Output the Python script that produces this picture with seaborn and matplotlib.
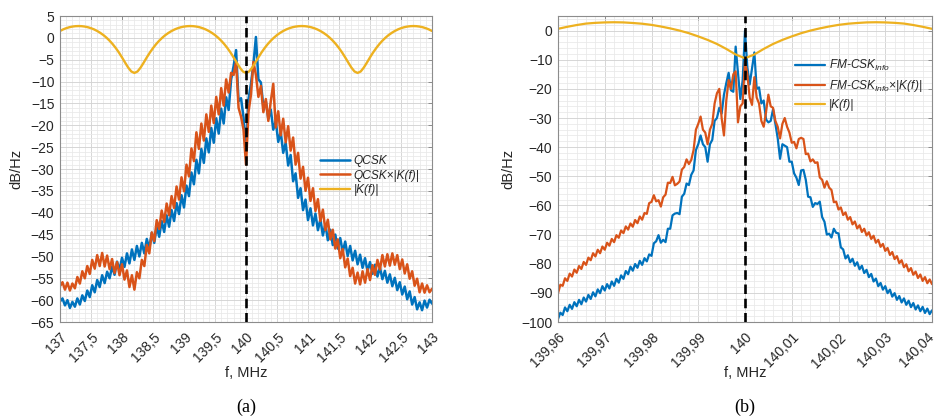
import numpy as np
import pandas as pd
import matplotlib
matplotlib.use("Agg")
import matplotlib.pyplot as plt
import seaborn as sns
from matplotlib.ticker import MultipleLocator, FuncFormatter

# ---------------- data ----------------
# panel (a): 137..143 MHz, spectra sampled every 0.04 MHz, |K(f)| every 0.05 MHz
a_f_start, a_f_step = 137.0, 0.04
a_k_start, a_k_step = 137.0, 0.05

qcsk_db = [
    -60.3, -59.6, -61.2, -60.0, -61.8, -60.4, -61.5, -59.6, -61.0, -58.9,
    -60.2, -57.8, -59.3, -56.6, -58.2, -55.4, -57.0, -54.3, -56.1, -53.5,
    -55.0, -52.3, -54.2, -51.2, -53.1, -50.3, -52.4, -49.3, -51.6, -48.4,
    -50.8, -47.6, -50.0, -46.9, -49.3, -46.0, -48.2, -44.6, -46.9, -43.2,
    -45.5, -41.9, -44.4, -40.6, -43.2, -39.4, -41.9, -37.8, -40.3, -36.0,
    -38.8, -33.8, -36.2, -30.8, -33.5, -27.9, -31.0, -25.4, -28.6, -23.0,
    -26.2, -20.6, -24.0, -18.4, -21.9, -16.2, -19.6, -13.6, -16.5, -9.5,
    -6.5, -2.8, -14.5, -13.8, -18.2, -25.5, -14.0, -10.5, -6.0, 0.2,
    -9.5, -10.2, -15.8, -14.5, -18.5, -16.4, -21.0, -19.0, -23.8, -21.5,
    -26.3, -24.0, -29.2, -26.8, -32.8, -31.0, -36.6, -34.4, -39.4, -37.0,
    -41.7, -39.0, -42.9, -40.2, -44.0, -41.5, -45.2, -42.6, -46.3, -43.9,
    -47.4, -45.0, -48.2, -45.8, -49.0, -46.6, -49.9, -47.6, -50.9, -48.7,
    -51.8, -49.6, -52.6, -50.4, -53.4, -51.3, -54.0, -51.9, -54.6, -52.5,
    -55.2, -53.3, -56.0, -54.1, -56.8, -54.9, -57.7, -55.9, -58.7, -56.9,
    -59.8, -58.0, -61.0, -59.3, -62.1, -60.5, -62.3, -60.1, -61.7, -59.9,
    -60.8]

qcsk_k_db = [
    -56.8, -55.9, -57.6, -56.0, -57.8, -56.2, -57.3, -54.7, -56.2, -53.4,
    -55.0, -52.2, -54.0, -50.8, -52.8, -49.7, -52.2, -49.2, -52.3, -49.8,
    -52.9, -50.6, -53.8, -51.3, -54.3, -51.8, -55.3, -53.2, -57.0, -54.3,
    -57.6, -53.6, -55.0, -50.8, -52.2, -47.4, -49.3, -44.5, -46.5, -41.7,
    -43.7, -39.5, -42.1, -37.9, -40.6, -36.2, -38.9, -34.0, -37.0, -31.9,
    -35.1, -29.0, -31.7, -25.3, -28.2, -21.6, -25.4, -19.6, -23.5, -17.5,
    -21.5, -15.5, -19.5, -13.5, -17.5, -11.5, -15.5, -9.5, -12.5, -8.0,
    -8.5, -5.5, -16.0, -18.0, -21.0, -29.0, -17.0, -13.0, -5.5, -8.5,
    -13.5, -11.0, -17.0, -14.0, -19.0, -14.5, -10.5, -20.5, -16.8, -22.3,
    -18.5, -23.9, -20.2, -25.8, -22.8, -29.0, -26.3, -32.2, -29.5, -35.0,
    -32.0, -37.3, -34.4, -39.6, -36.9, -41.9, -39.3, -44.0, -41.6, -46.1,
    -43.9, -48.2, -46.1, -50.4, -48.3, -52.5, -50.5, -54.5, -52.6, -56.2,
    -53.7, -56.4, -53.4, -56.0, -52.9, -55.4, -52.0, -54.2, -50.8, -53.0,
    -49.7, -52.3, -49.5, -52.1, -49.3, -51.9, -49.7, -52.9, -50.7, -53.9,
    -51.8, -55.1, -53.4, -56.7, -55.1, -58.2, -56.2, -58.3, -56.6, -58.2,
    -57.4]

k_a_db = [
    1.57, 1.93, 2.21, 2.43, 2.58, 2.67, 2.70, 2.67, 2.58, 2.43, 2.21, 1.93, 1.57,
    1.14, 0.64, 0.04, -0.65, -1.44, -2.34, -3.35, -4.47, -5.66, -6.80, -7.69, -8.03,
    -7.69, -6.80, -5.66, -4.47, -3.35, -2.34, -1.44, -0.65, 0.04, 0.64, 1.14, 1.57,
    1.93, 2.21, 2.43, 2.58, 2.67, 2.70,
    2.67, 2.58, 2.43, 2.21, 1.93, 1.57, 1.14, 0.64, 0.04, -0.65, -1.44, -2.34,
    -3.35, -4.47, -5.66, -6.80, -7.69, -8.03,
    -7.69, -6.80, -5.66, -4.47, -3.35, -2.34, -1.44, -0.65, 0.04, 0.64, 1.14, 1.57,
    1.93, 2.21, 2.43, 2.58, 2.67, 2.70,
    2.67, 2.58, 2.43, 2.21, 1.93, 1.57, 1.14, 0.64, 0.04, -0.65, -1.44, -2.34,
    -3.35, -4.47, -5.66, -6.80, -7.69, -8.03,
    -7.69, -6.80, -5.66, -4.47, -3.35, -2.34, -1.44, -0.65, 0.04, 0.64, 1.14, 1.57,
    1.93, 2.21, 2.43, 2.58, 2.67, 2.70, 2.67, 2.58, 2.43, 2.21, 1.93, 1.57]

# panel (b): 139.96..140.04 MHz, spectra every 0.0005 MHz, |K(f)| every 0.002 MHz
b_f_start, b_f_step = 139.96, 0.0005
b_k_start, b_k_step = 139.96, 0.002

fmcsk_db = [
    -99.0, -96.8, -97.6, -95.0, -96.3, -94.1, -95.5, -93.2, -94.6, -92.4,
    -93.9, -91.6, -93.0, -90.7, -92.1, -89.8, -91.2, -88.8, -90.1, -87.7,
    -89.2, -87.0, -88.5, -86.1, -87.6, -85.2, -86.5, -84.0, -85.2, -82.5,
    -83.6, -81.0, -82.4, -80.1, -81.4, -79.0, -80.4, -78.1, -79.2, -76.8,
    -77.3, -73.0, -72.3, -70.2, -72.8, -71.8, -72.6, -68.0, -68.0, -63.4,
    -62.8, -62.6, -63.0, -57.0, -56.0, -52.5, -53.0, -49.5, -48.0, -41.0,
    -39.0, -36.0, -39.0, -40.0, -45.0, -39.0, -37.5, -31.0, -30.0, -26.5,
    -28.5, -22.0, -18.0, -14.5, -20.5, -21.0, -5.5, -14.5, -23.5, -17.0,
    0.0,
    -12.5, -18.5, -13.0, -7.5, -20.0, -19.5, -25.0, -24.0, -30.5, -31.5,
    -31.0, -27.0, -32.0, -37.0, -44.0, -39.0, -39.5, -40.0, -45.0, -45.0,
    -49.0, -50.5, -53.0, -48.0, -47.8, -51.2, -57.0, -57.2, -60.5, -59.2,
    -59.5, -58.7, -64.0, -65.6, -70.0, -69.7, -71.0, -68.0, -69.4, -69.6,
    -74.4, -75.1, -78.2, -77.1, -79.5, -78.3, -80.7, -79.5, -81.9, -80.7,
    -83.2, -82.1, -84.6, -83.5, -86.1, -85.1, -87.7, -86.6, -88.9, -87.7,
    -90.1, -88.9, -91.3, -90.1, -92.4, -91.1, -93.3, -91.9, -94.1, -92.7,
    -94.9, -93.5, -95.7, -94.3, -96.3, -94.8, -96.9, -95.4, -97.3, -96.0]

fmcsk_k_db = [
    -90.2, -87.2, -87.6, -85.0, -85.9, -83.4, -84.4, -82.0, -83.1, -80.8,
    -81.8, -79.4, -80.4, -77.9, -78.8, -76.4, -77.5, -75.2, -76.4, -74.1,
    -75.2, -72.8, -73.8, -71.5, -72.6, -70.2, -71.1, -68.6, -69.5, -67.2,
    -68.3, -66.2, -67.3, -65.0, -66.1, -63.8, -64.9, -62.6, -62.9, -59.2,
    -58.8, -56.5, -58.6, -58.2, -60.4, -57.2, -56.3, -52.2, -52.3, -50.2,
    -53.1, -52.6, -51.8, -47.7, -46.8, -44.2, -45.8, -44.4, -41.0, -34.0,
    -32.0, -29.5, -34.0, -35.0, -39.0, -34.0, -32.0, -25.0, -21.5, -20.0,
    -30.0, -36.0, -24.0, -17.0, -20.0, -15.0, -14.0, -31.5, -26.0, -25.0,
    -10.5,
    -15.0, -23.0, -25.5, -16.0, -23.0, -25.0, -31.0, -33.0, -28.0, -22.0,
    -26.0, -26.5, -31.0, -33.0, -37.0, -32.0, -30.0, -33.0, -35.0, -38.5,
    -38.2, -40.4, -37.2, -36.8, -37.2, -42.4, -42.2, -44.9, -44.2, -45.4,
    -45.2, -50.4, -51.2, -53.9, -51.7, -53.9, -54.7, -58.9, -58.7, -61.4,
    -60.7, -63.3, -62.4, -64.9, -64.0, -66.5, -65.5, -67.9, -66.8, -69.1,
    -68.0, -70.3, -69.2, -71.5, -70.4, -72.8, -71.8, -74.2, -73.2, -75.6,
    -74.6, -77.0, -76.0, -78.4, -77.4, -79.8, -78.8, -81.2, -80.2, -82.6,
    -81.5, -83.8, -82.7, -84.9, -83.7, -85.9, -84.6, -86.7, -85.4, -87.0]

k_b_db = [
    0.6, 1.3, 1.9, 2.4, 2.65, 2.8, 2.86, 2.8, 2.6, 2.35, 1.95, 1.4, 0.75, 0.0,
    -0.9, -2.0, -3.2, -4.6, -6.3, -8.2, -9.5, -8.2, -6.3, -4.6, -3.2, -2.0, -0.9,
    0.0, 0.75, 1.4, 1.95, 2.35, 2.6, 2.8, 2.86, 2.8, 2.65, 2.4, 1.9, 1.3, 0.6]

labels_a = ["QCSK", "QCSK×|K(f)|", "|K(f)|"]
labels_b = ["FM-CSK$_{Info}$", "FM-CSK$_{Info}$×|K(f)|", "|K(f)|"]
xt_a = [137, 137.5, 138, 138.5, 139, 139.5, 140, 140.5, 141, 141.5, 142, 142.5, 143]
xt_b = [139.96, 139.97, 139.98, 139.99, 140.0, 140.01, 140.02, 140.03, 140.04]
f_center = 140.0

# ---------------- style ----------------
sns.set_theme(style="white")
plt.rcParams["font.family"] = ["Liberation Sans", "DejaVu Sans"]
plt.rcParams["mathtext.fontset"] = "custom"
plt.rcParams["mathtext.it"] = "Liberation Sans:italic"
plt.rcParams["mathtext.rm"] = "Liberation Sans"
plt.rcParams["axes.unicode_minus"] = True

C_BLUE, C_ORANGE, C_YELLOW = "#0072BD", "#D95319", "#EDB120"
TXT = "#262626"


def grid_f(start, step, n):
    return np.round(start + step * np.arange(n), 6)


def fmt_comma(v):
    return ("%g" % round(v, 4)).replace(".", ",")


fig = plt.figure(figsize=(9.37, 4.2), dpi=100)
W, H = 937.0, 420.0
ax_a = fig.add_axes([60 / W, (H - 322) / H, 372 / W, 306 / H])
ax_b = fig.add_axes([558 / W, (H - 322) / H, 374 / W, 306 / H])


def style_axes(ax, xlim, ylim, xmin, ymaj, ymin, xt, skip_last=False):
    ax.set_xlim(*xlim)
    ax.set_ylim(*ylim)
    ax.xaxis.set_major_locator(plt.FixedLocator(xt))
    ax.xaxis.set_minor_locator(MultipleLocator(xmin))
    ax.yaxis.set_major_locator(MultipleLocator(ymaj))
    ax.yaxis.set_minor_locator(MultipleLocator(ymin))
    last = xt[-1]
    ax.xaxis.set_major_formatter(FuncFormatter(
        lambda v, p: "" if (skip_last and abs(v - last) < 1e-9) else fmt_comma(v)))
    ax.set_axisbelow(True)
    ax.grid(which="minor", color="#e8e8e8", lw=0.55)
    ax.grid(which="major", color="#d3d3d3", lw=0.65)
    for s in ax.spines.values():
        s.set_color("#8c8c8c")
        s.set_linewidth(0.8)
    ax.tick_params(which="major", direction="in", top=True, right=True,
                   length=3, width=0.7, color="#8c8c8c", labelcolor=TXT,
                   labelsize=10, pad=4)
    ax.tick_params(which="minor", length=0)
    ax.tick_params(axis="x", pad=6)
    for lab in ax.get_xticklabels():
        lab.set_rotation(45)
        lab.set_ha("right")
        lab.set_va("top")
        lab.set_rotation_mode("anchor")
    if skip_last:
        # last label sits at the figure edge: keep its end on the tick
        ax.annotate(fmt_comma(last), xy=(last, 0), xycoords=("data", "axes fraction"),
                    xytext=(0, -9.5), textcoords="offset points", rotation=45,
                    ha="right", va="center", rotation_mode="anchor",
                    fontsize=10, color=TXT, annotation_clip=False)
    ax.set_xlabel("f, MHz", fontsize=10.5, color=TXT)
    ax.set_ylabel("dB/Hz", fontsize=10.5, color=TXT)


# ---------- panel (a) ----------
fa = grid_f(a_f_start, a_f_step, len(qcsk_db))
fka = grid_f(a_k_start, a_k_step, len(k_a_db))
sns.lineplot(x=fa, y=qcsk_db, ax=ax_a, color=C_BLUE, lw=1.8, label=labels_a[0])
sns.lineplot(x=fa, y=qcsk_k_db, ax=ax_a, color=C_ORANGE, lw=1.8, label=labels_a[1])
sns.lineplot(x=fka, y=k_a_db, ax=ax_a, color=C_YELLOW, lw=1.7, label=labels_a[2])
ax_a.axvline(f_center, color="black", lw=1.9, ls=(0, (3.6, 1.8)), zorder=5)
style_axes(ax_a, (137, 143), (-65, 5), 0.1, 5, 1, xt_a)
ax_a.xaxis.set_label_coords(0.5, -0.145)
ax_a.yaxis.set_label_coords(-0.098, 0.5)
ax_a.legend(loc="upper left", bbox_to_anchor=(0.70, 0.545), frameon=False,
            prop={"style": "italic", "size": 8.6}, handlelength=2.5,
            handletextpad=0.3, labelspacing=0.2, borderpad=0, borderaxespad=0,
            labelcolor=TXT)

# ---------- panel (b) ----------
fb = grid_f(b_f_start, b_f_step, len(fmcsk_db))
fkb = grid_f(b_k_start, b_k_step, len(k_b_db))
sns.lineplot(x=fb, y=fmcsk_db, ax=ax_b, color=C_BLUE, lw=1.6, label=labels_b[0])
sns.lineplot(x=fb, y=fmcsk_k_db, ax=ax_b, color=C_ORANGE, lw=1.6, label=labels_b[1])
sns.lineplot(x=fkb, y=k_b_db, ax=ax_b, color=C_YELLOW, lw=1.6, label=labels_b[2])
ax_b.axvline(f_center, color="black", lw=1.9, ls=(0, (3.6, 1.8)), zorder=5)
style_axes(ax_b, (139.96, 140.04), (-100, 5), 0.002, 10, 2, xt_b, skip_last=True)
ax_b.xaxis.set_label_coords(0.5, -0.145)
ax_b.yaxis.set_label_coords(-0.115, 0.5)
ax_b.legend(loc="upper left", bbox_to_anchor=(0.634, 0.862), frameon=False,
            prop={"style": "italic", "size": 8.6}, handlelength=2.5,
            handletextpad=0.3, labelspacing=0.4, borderpad=0, borderaxespad=0,
            labelcolor=TXT)

fig.text((60 + 186) / W, 1 - 407 / H, "(a)", family="Liberation Serif",
         fontsize=13, ha="center", va="center", color="black")
fig.text((558 + 187) / W, 1 - 407 / H, "(b)", family="Liberation Serif",
         fontsize=13, ha="center", va="center", color="black")

fig.savefig("out.png", dpi=100)
